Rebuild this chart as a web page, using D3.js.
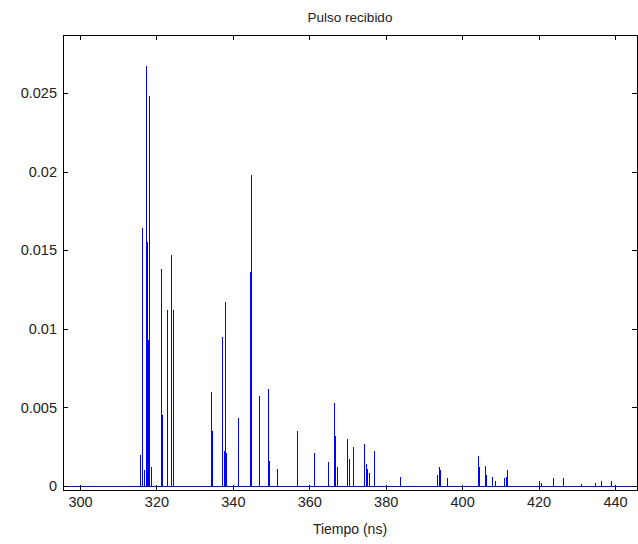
<!DOCTYPE html>
<html><head><meta charset="utf-8">
<script src="https://cdn.jsdelivr.net/npm/d3@7"></script>
<style>
body{margin:0;background:#fff;}
text{font-family:"Liberation Sans",Arial,Helvetica,sans-serif;}
</style></head><body>
<svg id="chart" width="638" height="544"></svg>
<script>
// ---- data ----
const spikeTimes = [
  315.9, 316.3, 316.8, 317.4, 317.6, 317.9, 318.3, 318.6,
  321.4, 321.7, 322.8, 323.0, 324.0, 324.4,
  334.3, 334.7, 337.4, 337.7, 338.2, 338.4, 341.4, 344.7, 344.9, 346.9, 347.1, 349.4, 349.6, 351.8,
  356.8, 357.0, 361.4, 364.9, 366.6, 366.8, 367.4, 370.0, 370.4, 371.5, 374.5, 374.9, 375.3, 375.7, 377.0,
  384.0, 393.6, 394.0, 394.3, 396.2, 404.2, 404.5, 406.0, 406.3, 407.9, 408.7, 411.0, 411.6, 411.9,
  420.3, 420.7, 424.0, 426.6, 431.3, 435.0, 436.6, 439.2
];
const spikeValues = [
  0.0020, 0.0164, 0.0010, 0.0267, 0.0155, 0.0093, 0.0248, 0.0012,
  0.0138, 0.0045, 0.0112, 0.0068, 0.0147, 0.0112,
  0.0060, 0.0035, 0.0095, 0.0022, 0.0117, 0.0021, 0.0043, 0.0136, 0.0198, 0.0057, 0.0035, 0.0062, 0.0016, 0.0011,
  0.0035, 0.0020, 0.0021, 0.0015, 0.0053, 0.0032, 0.0012, 0.0030, 0.0017, 0.0025, 0.0027, 0.0014, 0.0011, 0.0008, 0.0022,
  0.0006, 0.0007, 0.0012, 0.0010, 0.0005, 0.0019, 0.0012, 0.0013, 0.0007, 0.0006, 0.0003, 0.0005, 0.0006, 0.0010,
  0.0003, 0.0002, 0.0005, 0.0005, 0.0001, 0.0002, 0.0003, 0.0003
];
const xTicks = [300, 320, 340, 360, 380, 400, 420, 440];
const yTicks = [0, 0.005, 0.01, 0.015, 0.02, 0.025];
const yTickLabels = ["0", "0.005", "0.01", "0.015", "0.02", "0.025"];
const xDomain = [295.55, 445.76];
const yDomain = [-0.00025, 0.02869];
const titleText = "Pulso recibido";
const xLabelText = "Tiempo (ns)";

// ---- layout ----
const W = 638, H = 544;
const m = {left: 63, top: 35, right: 1, bottom: 54};
const iw = W - m.left - m.right, ih = H - m.top - m.bottom;

const svg = d3.select("#chart");
const g = svg.append("g").attr("transform", `translate(${m.left},${m.top})`);

const x = d3.scaleLinear().domain(xDomain).range([0, iw]);
const y = d3.scaleLinear().domain(yDomain).range([ih, 0]);

const lineColor = "#0000ff";

// baseline of the signal
g.append("line")
  .attr("x1", x(xDomain[0])).attr("x2", x(xDomain[1]))
  .attr("y1", y(0)).attr("y2", y(0))
  .attr("stroke", lineColor).attr("stroke-width", 1)
  .attr("shape-rendering", "crispEdges");

// spikes
const spikes = spikeTimes.map((t, i) => ({t, v: spikeValues[i]}));
g.append("g").selectAll("line").data(spikes).join("line")
  .attr("x1", d => x(d.t)).attr("x2", d => x(d.t))
  .attr("y1", y(0)).attr("y2", d => y(d.v))
  .attr("stroke", lineColor).attr("stroke-width", 1)
  .attr("shape-rendering", "crispEdges");

// axes (ticks inward, MATLAB style)
const fmtY = v => yTickLabels[yTicks.indexOf(v)];
const styleAxis = sel => {
  sel.select(".domain").remove();
  sel.selectAll(".tick line").attr("stroke", "#000").attr("shape-rendering", "crispEdges");
  sel.selectAll(".tick text").attr("fill", "#222").style("font-size", "14.5px")
     .style("font-family", '"Liberation Sans",Arial,sans-serif');
};
g.append("g").attr("transform", `translate(0,${ih})`)
  .call(d3.axisBottom(x).tickValues(xTicks).tickSizeInner(-5).tickSizeOuter(0).tickPadding(7).tickFormat(d3.format("d")))
  .call(styleAxis);
g.append("g")
  .call(d3.axisTop(x).tickValues(xTicks).tickSizeInner(-5).tickSizeOuter(0).tickFormat(""))
  .call(styleAxis);
g.append("g")
  .call(d3.axisLeft(y).tickValues(yTicks).tickSizeInner(-5).tickSizeOuter(0).tickPadding(6).tickFormat(fmtY))
  .call(styleAxis);
g.append("g").attr("transform", `translate(${iw},0)`)
  .call(d3.axisRight(y).tickValues(yTicks).tickSizeInner(-5).tickSizeOuter(0).tickFormat(""))
  .call(styleAxis);

// frame
g.append("rect").attr("x", 0).attr("y", 0).attr("width", iw).attr("height", ih)
  .attr("fill", "none").attr("stroke", "#000").attr("stroke-width", 1)
  .attr("shape-rendering", "crispEdges");

// title and x label
svg.append("text").attr("x", m.left + iw / 2).attr("y", 22)
  .attr("text-anchor", "middle").attr("fill", "#222").style("font-size", "13.5px").text(titleText);
svg.append("text").attr("x", m.left + iw / 2).attr("y", 534)
  .attr("text-anchor", "middle").attr("fill", "#222").style("font-size", "14px").text(xLabelText);
</script>
</body></html>
